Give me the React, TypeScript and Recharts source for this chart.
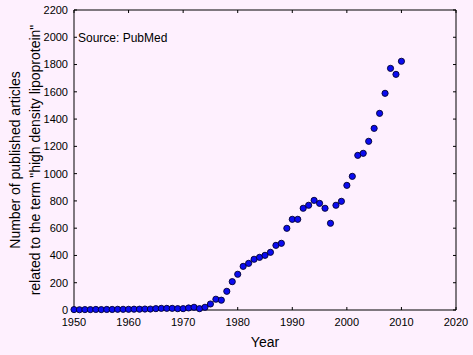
import React from 'react';
import { ScatterChart, Scatter, XAxis, YAxis, ReferenceLine } from 'recharts';

const years: number[] = [
  1950, 1951, 1952, 1953, 1954, 1955, 1956, 1957, 1958, 1959,
  1960, 1961, 1962, 1963, 1964, 1965, 1966, 1967, 1968, 1969,
  1970, 1971, 1972, 1973, 1974, 1975, 1976, 1977, 1978, 1979,
  1980, 1981, 1982, 1983, 1984, 1985, 1986, 1987, 1988, 1989,
  1990, 1991, 1992, 1993, 1994, 1995, 1996, 1997, 1998, 1999,
  2000, 2001, 2002, 2003, 2004, 2005, 2006, 2007, 2008, 2009,
  2010,
];

const articles: number[] = [
  3, 2, 3, 3, 4, 3, 4, 4, 5, 5,
  5, 6, 6, 7, 7, 10, 12, 12, 12, 10,
  10, 15, 20, 10, 20, 44, 79, 72, 137, 208,
  262, 320, 342, 372, 386, 401, 423, 474, 489, 599,
  665, 665, 746, 768, 804, 782, 746, 636, 768, 797,
  914, 980, 1134, 1149, 1237, 1332, 1442, 1589, 1772, 1728,
  1824,
];

const xTicks: number[] = [1950, 1960, 1970, 1980, 1990, 2000, 2010, 2020];
const yTicks: number[] = [0, 200, 400, 600, 800, 1000, 1200, 1400, 1600, 1800, 2000, 2200];

const xTitle = 'Year';
const yTitleLines: string[] = ['Number of published articles', 'related to the term "high density lipoprotein"'];
const sourceNote = 'Source: PubMed';

const data = years.map((y, i) => ({ year: y, count: articles[i] }));

const FONT = '"Liberation Sans", Arial, sans-serif';
const BG = '#FEF0FE';

const Dot = (props: any) => {
  const { cx, cy } = props;
  if (cx == null || cy == null) return <g />;
  return <circle cx={cx} cy={cy} r={3.1} fill="#0b0bf0" stroke="#000030" strokeWidth={0.9} />;
};

const NoTick = () => <g />;

const YTitle = (props: any) => {
  const vb = props.viewBox || { x: 0, y: 10, width: 74, height: 300 };
  const cy = vb.y + vb.height / 2;
  const x1 = 20;
  const x2 = 40;
  return (
    <g>
      <text x={x1} y={cy} transform={`rotate(-90, ${x1}, ${cy})`} textAnchor="middle"
        fontFamily={FONT} fontSize={14} fill="#000">{yTitleLines[0]}</text>
      <text x={x2} y={cy} transform={`rotate(-90, ${x2}, ${cy})`} textAnchor="middle"
        fontFamily={FONT} fontSize={14} fill="#000">{yTitleLines[1]}</text>
    </g>
  );
};

const XTitle = (props: any) => {
  const vb = props.viewBox || { x: 74, y: 310, width: 382, height: 45 };
  const cx = vb.x + vb.width / 2;
  return (
    <text x={cx} y={vb.y + 37} textAnchor="middle" fontFamily={FONT} fontSize={14} fill="#000">{xTitle}</text>
  );
};

export default function App() {
  return (
    <div style={{ position: 'absolute', left: 0, top: 0, width: 473, height: 355, background: BG }}>
      <ScatterChart width={473} height={355} margin={{ top: 5, right: 12, bottom: 0, left: 0 }}
        style={{ fontFamily: FONT }}>
        <XAxis xAxisId="b" dataKey="year" type="number" domain={[1950, 2020]} ticks={xTicks}
          orientation="bottom" height={45} tickSize={-3} tickMargin={11}
          axisLine={{ stroke: '#000' }} tickLine={{ stroke: '#000' }}
          tick={{ fill: '#000', fontSize: 11, fontFamily: FONT }} interval={0}
          label={XTitle} />
        <XAxis xAxisId="t" dataKey="year" type="number" domain={[1950, 2020]} ticks={xTicks}
          orientation="top" height={5} tickSize={-3} tick={NoTick} allowDataOverflow
          axisLine={{ stroke: '#000' }} tickLine={{ stroke: '#000' }} interval={0} />
        <YAxis yAxisId="l" dataKey="count" type="number" domain={[0, 2200]} ticks={yTicks}
          orientation="left" width={74} tickSize={-3} tickMargin={9}
          axisLine={{ stroke: '#000' }} tickLine={{ stroke: '#000' }}
          tick={{ fill: '#000', fontSize: 11, fontFamily: FONT }} interval={0}
          label={YTitle} />
        <YAxis yAxisId="r" dataKey="count" type="number" domain={[0, 2200]} ticks={yTicks}
          orientation="right" width={5} tickSize={-3} tick={NoTick} allowDataOverflow
          axisLine={{ stroke: '#000' }} tickLine={{ stroke: '#000' }} interval={0} />
        <ReferenceLine xAxisId="b" yAxisId="l" y={2000} stroke="none"
          label={{ value: sourceNote, position: 'insideLeft', offset: 4, fill: '#000', fontSize: 12, fontFamily: FONT }} />
        <Scatter xAxisId="b" yAxisId="l" data={data} shape={Dot} isAnimationActive={false} />
        <Scatter xAxisId="t" yAxisId="r" data={data} shape={NoTick} isAnimationActive={false} />
      </ScatterChart>
    </div>
  );
}
